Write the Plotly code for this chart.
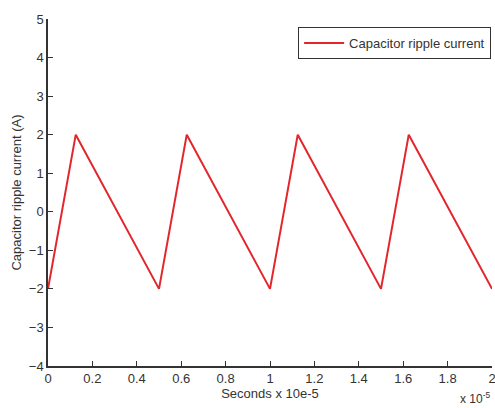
import plotly.graph_objects as go

# Data (time in units of 1e-5 s)
time_vals = [0, 0.125, 0.5, 0.625, 1.0, 1.125, 1.5, 1.625, 2.0]
current_vals = [-2, 2, -2, 2, -2, 2, -2, 2, -2]
x_ticks = [0, 0.2, 0.4, 0.6, 0.8, 1, 1.2, 1.4, 1.6, 1.8, 2]
x_tick_labels = ["0", "0.2", "0.4", "0.6", "0.8", "1", "1.2", "1.4", "1.6", "1.8", "2"]
y_ticks = [-4, -3, -2, -1, 0, 1, 2, 3, 4, 5]

fig = go.Figure()
fig.add_trace(go.Scatter(
    x=time_vals, y=current_vals, mode="lines",
    name="Capacitor ripple current",
    line=dict(color="#e3262b", width=2),
))

font_color = "#333333"
fig.update_layout(
    width=495, height=408,
    margin=dict(l=48, r=3, t=19, b=42),
    paper_bgcolor="white", plot_bgcolor="white",
    font=dict(family="Arial, Liberation Sans, sans-serif", size=13, color=font_color),
    showlegend=True,
    legend=dict(
        x=0.998, y=0.977, xanchor="right", yanchor="top",
        bordercolor="#333333", borderwidth=1, bgcolor="white",
        font=dict(size=13, color=font_color),
        itemwidth=40,
    ),
    xaxis=dict(
        range=[0, 2], tickvals=x_ticks, ticktext=x_tick_labels,
        ticks="inside", ticklen=5, tickcolor="#333333",
        showline=True, linecolor="#333333", linewidth=1.5,
        showgrid=False, zeroline=False, automargin=False,
        ticklabeloverflow="allow",
        title=dict(text="Seconds x 10e-5", standoff=3, font=dict(size=13)),
        tickfont=dict(size=13),
    ),
    yaxis=dict(
        range=[-4, 5], tickvals=y_ticks,
        ticks="inside", ticklen=5, tickcolor="#333333",
        showline=True, linecolor="#333333", linewidth=1.5,
        showgrid=False, zeroline=False, automargin=False,
        ticklabeloverflow="allow",
        title=dict(text="Capacitor ripple current (A)", standoff=4, font=dict(size=13)),
        tickfont=dict(size=13),
    ),
)
fig.add_annotation(
    x=1.0, y=0, xref="paper", yref="paper",
    xanchor="right", yanchor="top", yshift=-22, xshift=0,
    text="x 10<sup>-5</sup>", showarrow=False,
    font=dict(size=12, color=font_color),
)

fig.write_html("out.html")
